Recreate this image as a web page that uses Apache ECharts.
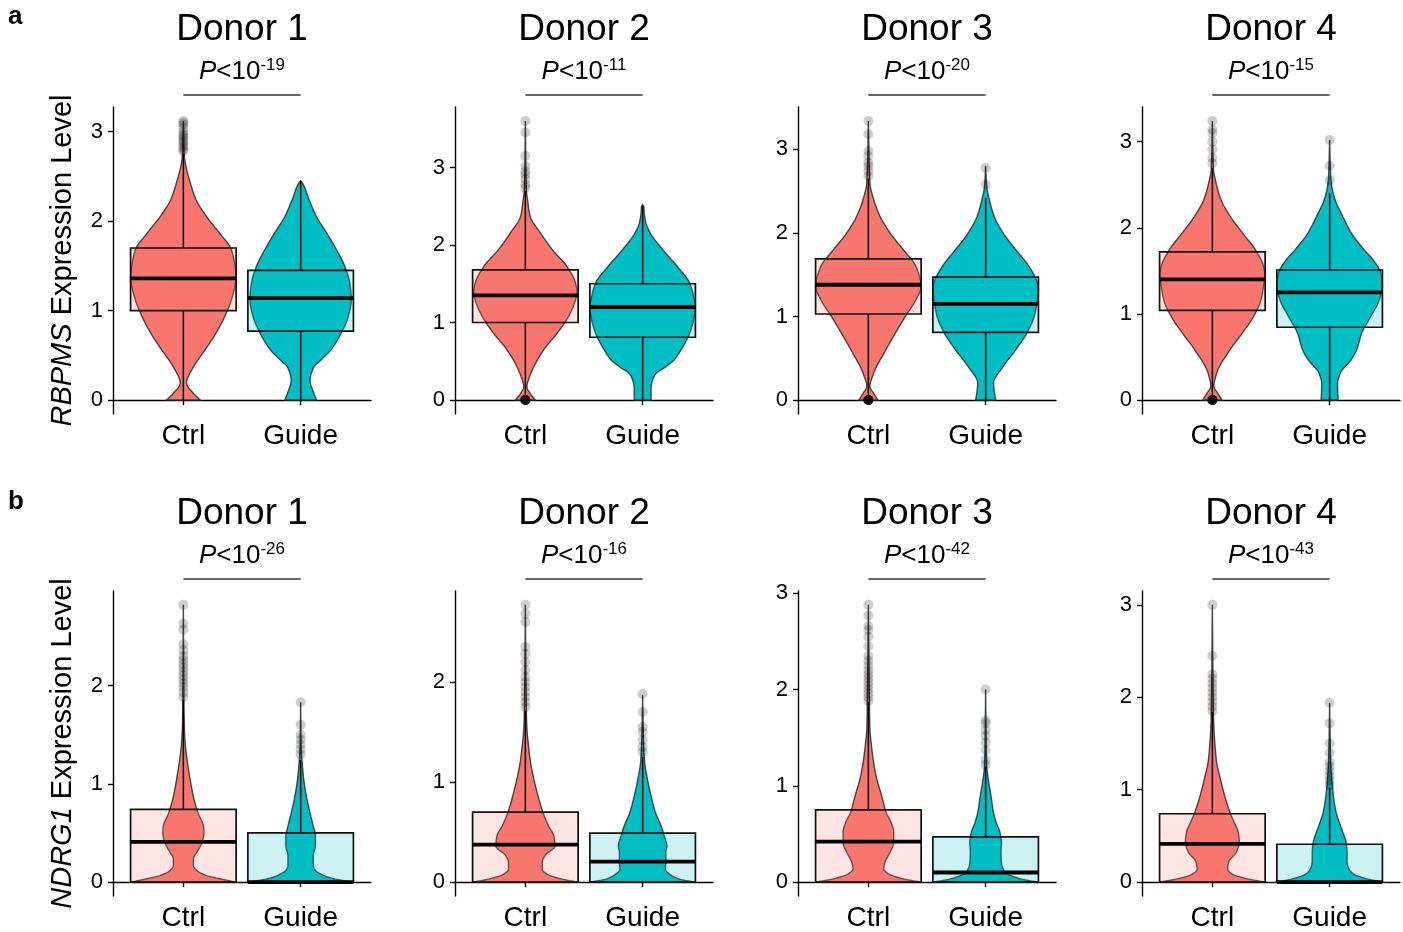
<!DOCTYPE html>
<html>
<head>
<meta charset="utf-8">
<script src="https://cdn.jsdelivr.net/npm/echarts@6/dist/echarts.min.js"></script>
<style>
  html, body { margin: 0; padding: 0; background: #fff; }
  #chart { width: 1403px; height: 932px; }
</style>
</head>
<body>
<div id="chart"></div>
<script>
// ---- data ----
const groups = ['Ctrl', 'Guide'];
const donors = ['Donor 1', 'Donor 2', 'Donor 3', 'Donor 4'];
const genes = ['RBPMS', 'NDRG1'];
const rbpmsPExp = [19, 11, 20, 15];
const ndrg1PExp = [26, 16, 42, 43];

// violin outlines: [expression level, relative width (1 = widest)]
const rbpmsCtrlDonor1 = [[0,.32],[.075,.19],[.19,.06],[.37,.19],[.56,.41],[.75,.62],[.93,.78],[1.12,.91],[1.31,.99],[1.38,1],[1.49,.98],[1.68,.91],[1.87,.68],[2.05,.44],[2.24,.24],[2.43,.13],[2.61,.05],[2.72,.02],[3.12,0]];
const rbpmsGuideDonor1 = [[0,.30],[.09,.24],[.22,.18],[.37,.25],[.45,.39],[.56,.57],[.75,.77],[.93,.90],[1.12,.96],[1.31,.93],[1.49,.84],[1.68,.68],[1.87,.49],[2.05,.30],[2.24,.16],[2.43,.03],[2.45,0]];
const rbpmsCtrlDonor2 = [[0,.19],[.086,.09],[.17,.03],[.30,.08],[.43,.16],[.65,.35],[.86,.60],[1.08,.82],[1.29,.95],[1.38,.98],[1.51,.95],[1.72,.79],[1.94,.51],[2.16,.28],[2.37,.09],[2.59,.04],[2.7,.02],[3.6,0]];
const rbpmsGuideDonor2 = [[0,.16],[.17,.16],[.26,.19],[.34,.25],[.43,.44],[.52,.60],[.65,.73],[.86,.89],[1.08,.98],[1.2,1],[1.29,.98],[1.51,.89],[1.72,.66],[1.94,.38],[2.16,.14],[2.29,.06],[2.41,.03],[2.5,.02],[2.52,0]];
const rbpmsCtrlDonor3 = [[0,.18],[.08,.10],[.16,.03],[.32,.10],[.6,.33],[.8,.51],[1.0,.70],[1.2,.90],[1.36,1],[1.6,.90],[1.8,.66],[2.0,.41],[2.2,.22],[2.4,.10],[2.6,.03],[3.34,0]];
const rbpmsGuideDonor3 = [[0,.19],[.12,.16],[.2,.15],[.4,.33],[.6,.57],[.8,.78],[1.0,.92],[1.2,.98],[1.32,1],[1.4,.98],[1.6,.82],[1.8,.57],[2.0,.33],[2.2,.16],[2.4,.07],[2.56,.02],[2.8,0]];
const rbpmsCtrlDonor4 = [[0,.18],[.08,.10],[.16,.03],[.31,.08],[.58,.33],[.78,.57],[.97,.78],[1.16,.92],[1.36,.98],[1.43,1],[1.55,.97],[1.74,.82],[1.94,.57],[2.13,.34],[2.33,.16],[2.52,.07],[2.69,.02],[3.24,0]];
const rbpmsGuideDonor4 = [[0,.16],[.19,.15],[.31,.20],[.47,.41],[.58,.51],[.78,.61],[.97,.78],[1.16,.94],[1.32,1],[1.47,.97],[1.63,.82],[1.74,.66],[1.94,.41],[2.13,.25],[2.33,.10],[2.48,.04],[2.6,.02],[3.02,0]];

const ndrg1CtrlDonor1 = [[0,.99],[.034,.70],[.067,.44],[.12,.25],[.17,.19],[.24,.19],[.3,.25],[.4,.35],[.5,.39],[.57,.38],[.7,.28],[.87,.19],[1.04,.13],[1.21,.08],[1.38,.04],[1.55,.02],[1.85,.01],[2.82,0]];
const ndrg1GuideDonor1 = [[0,.99],[.034,.63],[.067,.44],[.12,.28],[.17,.24],[.27,.24],[.37,.28],[.47,.28],[.57,.24],[.7,.18],[.87,.11],[1.04,.06],[1.21,.03],[1.38,.01],[1.83,0]];
const ndrg1CtrlDonor2 = [[0,.99],[.03,.70],[.08,.41],[.13,.32],[.2,.32],[.27,.38],[.36,.56],[.46,.54],[.56,.44],[.7,.33],[.86,.24],[1.03,.16],[1.19,.10],[1.36,.06],[1.53,.03],[1.69,.02],[2.77,0]];
const ndrg1GuideDonor2 = [[0,.99],[.03,.70],[.08,.51],[.13,.43],[.2,.44],[.3,.44],[.36,.46],[.46,.41],[.56,.35],[.7,.24],[.86,.16],[1.03,.09],[1.19,.04],[1.36,.02],[1.87,0]];
const ndrg1CtrlDonor3 = [[0,1],[.034,.66],[.09,.37],[.14,.29],[.2,.31],[.31,.41],[.41,.48],[.52,.48],[.62,.43],[.72,.34],[.9,.25],[1.07,.16],[1.24,.10],[1.41,.06],[1.59,.03],[1.87,.02],[2.88,0]];
const ndrg1GuideDonor3 = [[0,1],[.034,.66],[.09,.41],[.14,.33],[.2,.30],[.31,.29],[.41,.30],[.52,.27],[.62,.20],[.72,.15],[.9,.10],[1.07,.05],[1.21,.02],[2.0,0]];
const ndrg1CtrlDonor4 = [[0,1],[.036,.66],[.09,.37],[.14,.29],[.22,.31],[.32,.45],[.43,.51],[.54,.49],[.65,.41],[.76,.33],[.94,.23],[1.12,.15],[1.3,.08],[1.48,.05],[1.66,.03],[1.84,.02],[3.0,0]];
const ndrg1GuideDonor4 = [[0,1],[.036,.70],[.09,.45],[.14,.37],[.22,.33],[.32,.33],[.43,.31],[.54,.25],[.65,.18],[.76,.12],[.94,.07],[1.12,.04],[1.3,.02],[1.94,0]];

// box stats per donor: [lower whisker, Q1, median, Q3, upper whisker]
const rbpmsCtrlBox = [[0, 1.0, 1.36, 1.70, 2.75], [0.03, 1.0, 1.35, 1.68, 2.70], [0.03, 1.03, 1.38, 1.69, 2.65], [0.03, 1.04, 1.40, 1.72, 2.69]];
const rbpmsGuideBox = [[0, 0.77, 1.14, 1.45, 2.45], [0, 0.81, 1.20, 1.50, 2.50], [0, 0.81, 1.15, 1.47, 2.42], [0, 0.845, 1.25, 1.51, 2.40]];
const ndrg1CtrlBox = [[0, 0, 0.41, 0.74, 1.85], [0, 0, 0.375, 0.70, 1.71], [0, 0, 0.42, 0.75, 1.87], [0, 0, 0.415, 0.74, 1.84]];
const ndrg1GuideBox = [[0, 0, 0, 0.50, 1.24], [0, 0, 0.205, 0.49, 1.25], [0, 0, 0.10, 0.47, 1.20], [0, 0, 0, 0.41, 1.02]];

// outliers per donor
const rbpmsCtrlOut = [
  [2.78, 2.8, 2.83, 2.85, 2.88, 2.9, 2.93, 2.95, 2.97, 3.0, 3.04, 3.08, 3.1, 3.12],
  [0, 0, 0, 0, 0, 0, 0, 0, 0, 0, 2.74, 2.78, 2.85, 2.91, 2.95, 3.02, 3.15, 3.45, 3.6],
  [0, 0, 0, 0, 0, 0, 0, 0, 0, 0, 2.68, 2.74, 2.8, 2.84, 2.92, 2.98, 3.18, 3.34],
  [0, 0, 0, 0, 0, 0, 0, 0, 0, 0, 2.75, 2.81, 2.91, 3.0, 3.1, 3.14, 3.24]
];
const rbpmsGuideOut = [[], [], [2.58, 2.78], [2.55, 2.72, 3.02]];
const ndrg1CtrlOut = [
  [1.88, 1.93, 1.98, 2.02, 2.06, 2.1, 2.14, 2.18, 2.22, 2.26, 2.3, 2.36, 2.42, 2.57, 2.63, 2.82],
  [1.75, 1.8, 1.85, 1.9, 1.95, 2.0, 2.05, 2.12, 2.2, 2.28, 2.35, 2.6, 2.68, 2.77],
  [1.88, 1.92, 1.96, 2.0, 2.04, 2.08, 2.12, 2.16, 2.2, 2.25, 2.3, 2.35, 2.45, 2.55, 2.62, 2.66, 2.77, 2.88],
  [1.85, 1.9, 1.95, 2.0, 2.05, 2.1, 2.15, 2.2, 2.25, 2.45, 3.0]
];
const ndrg1GuideOut = [
  [1.3, 1.35, 1.4, 1.45, 1.5, 1.6, 1.83],
  [1.3, 1.35, 1.42, 1.5, 1.55, 1.7, 1.88],
  [1.22, 1.27, 1.37, 1.45, 1.52, 1.58, 1.65, 1.68, 2.0],
  [1.05, 1.1, 1.15, 1.2, 1.25, 1.3, 1.4, 1.5, 1.72, 1.94]
];

// ---- layout / style ----
const FONT = '"Liberation Sans", Arial, Helvetica, sans-serif';
const HALF = 0.45;                 // half of box / max violin width, in category units
const violinFill = ['#F8766D', '#00BFC4'];
const boxFill = ['rgba(248,118,109,0.2)', 'rgba(0,191,196,0.2)'];
const gridLefts = [113, 455, 798, 1142];
const gridTops = [107, 591];
const GRID_W = 258, GRID_H = 307;

const rows = [
  {
    gene: 'RBPMS', pExp: rbpmsPExp,
    violins: [[rbpmsCtrlDonor1, rbpmsGuideDonor1], [rbpmsCtrlDonor2, rbpmsGuideDonor2], [rbpmsCtrlDonor3, rbpmsGuideDonor3], [rbpmsCtrlDonor4, rbpmsGuideDonor4]],
    boxes: [rbpmsCtrlBox, rbpmsGuideBox], outs: [rbpmsCtrlOut, rbpmsGuideOut]
  },
  {
    gene: 'NDRG1', pExp: ndrg1PExp,
    violins: [[ndrg1CtrlDonor1, ndrg1GuideDonor1], [ndrg1CtrlDonor2, ndrg1GuideDonor2], [ndrg1CtrlDonor3, ndrg1GuideDonor3], [ndrg1CtrlDonor4, ndrg1GuideDonor4]],
    boxes: [ndrg1CtrlBox, ndrg1GuideBox], outs: [ndrg1CtrlOut, ndrg1GuideOut]
  }
];

// monotone cubic (Fritsch-Carlson) so the outline is drawn smooth without overshoot
function smoothOutline(pts, steps) {
  const n = pts.length;
  const xs = pts.map(p => p[0]), ys = pts.map(p => p[1]);
  const h = [], d = [], t = [];
  for (let i = 0; i < n - 1; i++) {
    h[i] = xs[i + 1] - xs[i];
    d[i] = (ys[i + 1] - ys[i]) / h[i];
  }
  t[0] = d[0];
  t[n - 1] = d[n - 2];
  for (let i = 1; i < n - 1; i++) {
    if (d[i - 1] * d[i] <= 0) t[i] = 0;
    else t[i] = 3 * (h[i - 1] + h[i]) / ((2 * h[i] + h[i - 1]) / d[i - 1] + (h[i] + 2 * h[i - 1]) / d[i]);
  }
  const out = [];
  for (let i = 0; i < n - 1; i++) {
    for (let k = 0; k < steps; k++) {
      const s = k / steps, s2 = s * s, s3 = s2 * s;
      const v = (2 * s3 - 3 * s2 + 1) * ys[i] + (s3 - 2 * s2 + s) * h[i] * t[i] +
                (-2 * s3 + 3 * s2) * ys[i + 1] + (s3 - s2) * h[i] * t[i + 1];
      out.push([xs[i] + s * h[i], Math.max(0, v)]);
    }
  }
  out.push(pts[n - 1]);
  return out;
}

const option = {
  animation: false,
  backgroundColor: '#fff',
  textStyle: { fontFamily: FONT, color: '#000' },
  title: [
    { text: 'a', left: 8, top: 4, padding: 0, textStyle: { fontSize: 26, fontWeight: 'bold', color: '#000', fontFamily: FONT } },
    { text: 'b', left: 8, top: 489, padding: 0, textStyle: { fontSize: 26, fontWeight: 'bold', color: '#000', fontFamily: FONT } }
  ],
  grid: [], xAxis: [], yAxis: [], series: []
};

rows.forEach((row, r) => {
  donors.forEach((donor, c) => {
    const idx = r * 4 + c;
    const violins = row.violins[c];
    const boxes = [row.boxes[0][c], row.boxes[1][c]];
    const outs = [row.outs[0][c], row.outs[1][c]];
    let dataMax = 0;
    violins.forEach(v => v.forEach(p => { dataMax = Math.max(dataMax, p[0]); }));
    outs.forEach(o => o.forEach(v => { dataMax = Math.max(dataMax, v); }));
    const yMin = -0.05 * dataMax, yMax = 1.05 * dataMax;
    const ticks = [];
    for (let t = 0; t <= yMax; t++) ticks.push(t);

    const left = gridLefts[c], top = gridTops[r];
    option.grid.push({ left: left, top: top, width: GRID_W, height: GRID_H });

    option.title.push({
      text: donor,
      subtext: '{i|P}{n|<10}{s|-' + row.pExp[c] + '}',
      left: left + GRID_W / 2, top: top - 96, textAlign: 'center', itemGap: 9, padding: 0,
      textStyle: { fontSize: 37, fontWeight: 'normal', color: '#000', fontFamily: FONT },
      subtextStyle: {
        fontFamily: FONT, color: '#000',
        rich: {
          i: { fontSize: 26, fontStyle: 'italic', color: '#000', fontFamily: FONT, lineHeight: 30 },
          n: { fontSize: 26, color: '#000', fontFamily: FONT, lineHeight: 30 },
          s: { fontSize: 17, color: '#000', fontFamily: FONT, padding: [0, 0, 13, 0], lineHeight: 30 }
        }
      }
    });

    const axisLine = { show: true, lineStyle: { color: '#000', width: 1.4 } };
    const axisTickStyle = { show: true, length: 5, lineStyle: { color: '#000', width: 1.4 } };
    option.xAxis.push({
      type: 'value', gridIndex: idx, min: 0.4, max: 2.6,
      axisLine: axisLine, splitLine: { show: false },
      axisTick: Object.assign({ customValues: [1, 2] }, axisTickStyle),
      axisLabel: {
        customValues: [1, 2], margin: 8, fontSize: 28, color: '#000', fontFamily: FONT,
        formatter: v => groups[Math.round(v) - 1]
      }
    });
    const yAxis = {
      type: 'value', gridIndex: idx, min: yMin, max: yMax,
      axisLine: axisLine, splitLine: { show: false },
      axisTick: Object.assign({ customValues: ticks }, axisTickStyle),
      axisLabel: { customValues: ticks, margin: 10, fontSize: 22, color: '#000', fontFamily: FONT }
    };
    if (c === 0) {
      Object.assign(yAxis, {
        name: '{i|' + row.gene + '} Expression Level',
        nameLocation: 'middle', nameRotate: 90, nameGap: 36,
        nameTextStyle: {
          fontSize: 29, color: '#000', fontFamily: FONT,
          rich: { i: { fontSize: 29, fontStyle: 'italic', color: '#000', fontFamily: FONT } }
        }
      });
    }
    option.yAxis.push(yAxis);

    // violins + boxes
    option.series.push({
      type: 'custom', xAxisIndex: idx, yAxisIndex: idx, clip: false, silent: true,
      data: [[1, 0], [2, 0]],
      renderItem: function (params, api) {
        const g = params.dataIndex;
        const x = g + 1;
        const prof = smoothOutline(violins[g], 10);
        const leftSide = prof.map(p => api.coord([x - p[1] * HALF, p[0]]));
        const rightSide = prof.slice().reverse().map(p => api.coord([x + p[1] * HALF, p[0]]));
        const [lo, q1, med, q3, hi] = boxes[g];
        const tl = api.coord([x - HALF, q3]);
        const br = api.coord([x + HALF, q1]);
        const children = [{
          type: 'polygon',
          shape: { points: leftSide.concat(rightSide) },
          style: { fill: violinFill[g], stroke: 'rgba(45,45,45,0.85)', lineWidth: 1.4 }
        }];
        const line = (a, b, w) => ({
          type: 'line', shape: { x1: a[0], y1: a[1], x2: b[0], y2: b[1] },
          style: { stroke: '#000', lineWidth: w }
        });
        if (hi > q3) children.push(line(api.coord([x, q3]), api.coord([x, hi]), 1.5));
        if (lo < q1) children.push(line(api.coord([x, q1]), api.coord([x, lo]), 1.5));
        children.push({
          type: 'rect',
          shape: { x: tl[0], y: tl[1], width: br[0] - tl[0], height: br[1] - tl[1] },
          style: { fill: boxFill[g], stroke: '#111', lineWidth: 1.7 }
        });
        children.push(line(api.coord([x - HALF, med]), api.coord([x + HALF, med]), 3.8));
        return { type: 'group', children: children };
      }
    });

    // outliers
    const outData = [];
    outs.forEach((o, g) => o.forEach(v => outData.push([g + 1, v])));
    option.series.push({
      type: 'scatter', xAxisIndex: idx, yAxisIndex: idx, silent: true, z: 5,
      symbolSize: 10, data: outData,
      itemStyle: { color: 'rgba(0,0,0,0.24)' }
    });

    // significance bracket above the two groups
    option.series.push({
      type: 'custom', xAxisIndex: idx, yAxisIndex: idx, clip: false, silent: true,
      data: [[1, yMax]],
      renderItem: function (params, api) {
        const a = api.coord([1, yMax]);
        const b = api.coord([2, yMax]);
        return {
          type: 'line',
          shape: { x1: a[0], y1: a[1] - 12, x2: b[0], y2: b[1] - 12 },
          style: { stroke: '#333', lineWidth: 1.5 }
        };
      }
    });
  });
});

const chart = echarts.init(document.getElementById('chart'), null, { renderer: 'canvas' });
chart.setOption(option);
</script>
</body>
</html>
